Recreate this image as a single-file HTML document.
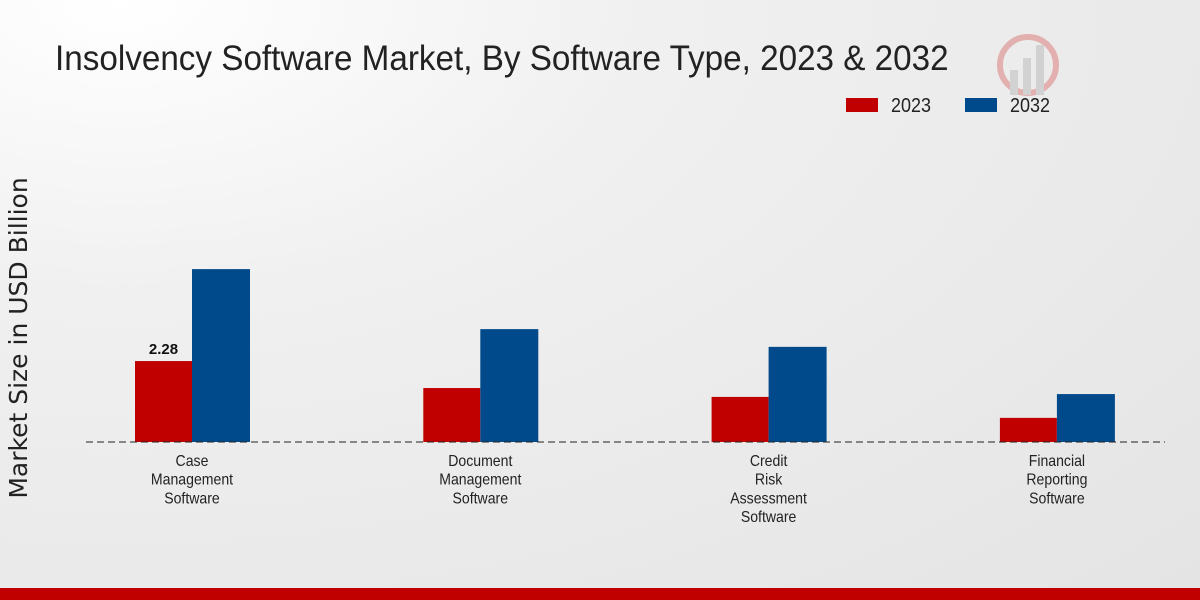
<!DOCTYPE html>
<html><head><meta charset="utf-8"><style>
html,body{margin:0;padding:0}
body{width:1200px;height:600px;overflow:hidden;background:radial-gradient(ellipse at 10% 0%,#ffffff 0%,#f0f0f0 35%,#e4e4e4 100%);font-family:"Liberation Sans",sans-serif;position:relative}
svg{position:absolute;left:0;top:0}
</style></head><body>
<svg width="1200" height="600">
<text x="55" y="70" font-size="35" fill="#222" transform="translate(55,0) scale(0.95,1) translate(-55,0)">Insolvency Software Market, By Software Type, 2023 &amp; 2032</text>
<g opacity="0.25">
<circle cx="1028" cy="65" r="28" fill="none" stroke="#c00" stroke-width="6"/>
<rect x="1010" y="70" width="8" height="25" fill="#888"/><rect x="1023" y="58" width="8" height="37" fill="#888"/><rect x="1036" y="45" width="8" height="50" fill="#888"/>
</g>
<rect x="846" y="98" width="32" height="14" fill="#c00000"/>
<text x="891" y="112" font-size="20" fill="#222" transform="translate(891,0) scale(0.9,1) translate(-891,0)">2023</text>
<rect x="965" y="98" width="32" height="14" fill="#004a8b"/>
<text x="1010" y="112" font-size="20" fill="#222" transform="translate(1010,0) scale(0.9,1) translate(-1010,0)">2032</text>
<text transform="translate(27,338) rotate(-90)" text-anchor="middle" font-size="25" font-family="DejaVu Sans, sans-serif" fill="#222">Market Size in USD Billion</text>
<g id="bars"></g>
<line x1="86" y1="442" x2="1165" y2="442" stroke="#222" stroke-width="1" stroke-dasharray="7,4"/>
<rect x="0" y="588" width="1200" height="12" fill="#c00000"/>
</svg>
<script>
const categories=[["Case","Management","Software"],["Document","Management","Software"],["Credit","Risk","Assessment","Software"],["Financial","Reporting","Software"]];
const values2023=[2.28,1.52,1.27,0.68];
const values2032=[4.87,3.18,2.68,1.35];
const labels2023=["2.28",null,null,null];
const NS="http://www.w3.org/2000/svg";
const g=document.getElementById('bars');
const baseY=442, pxPerUnit=35.5;
const yScale=v=>baseY-v*pxPerUnit;
const xCenter=i=>192+i*288.3;
function mk(t,a){const e=document.createElementNS(NS,t);for(const k in a)e.setAttribute(k,a[k]);g.appendChild(e);return e;}
categories.forEach((c,i)=>{
  const cx=xCenter(i);
  const r1=mk('rect',{x:cx-57,y:yScale(values2023[i]),width:57,height:baseY-yScale(values2023[i]),fill:'#c00000'});
  
  
  const r2=mk('rect',{x:cx,y:yScale(values2032[i]),width:58,height:baseY-yScale(values2032[i]),fill:'#004a8b'});
  
  
  if(labels2023[i]){
    const t=mk('text',{x:cx-28.5,y:yScale(values2023[i])-7,'text-anchor':'middle','font-size':15,'font-weight':'bold',fill:'#111'});
    t.textContent=labels2023[i];
    
    
  }
  c.forEach((line,j)=>{
    const t=mk('text',{x:cx,y:466+j*18.7,'text-anchor':'middle','font-size':16,fill:'#222',transform:`translate(${cx},0) scale(0.88,1) translate(${-cx},0)`});
    t.textContent=line;
    
    
  });
});
</script>
</body></html>
